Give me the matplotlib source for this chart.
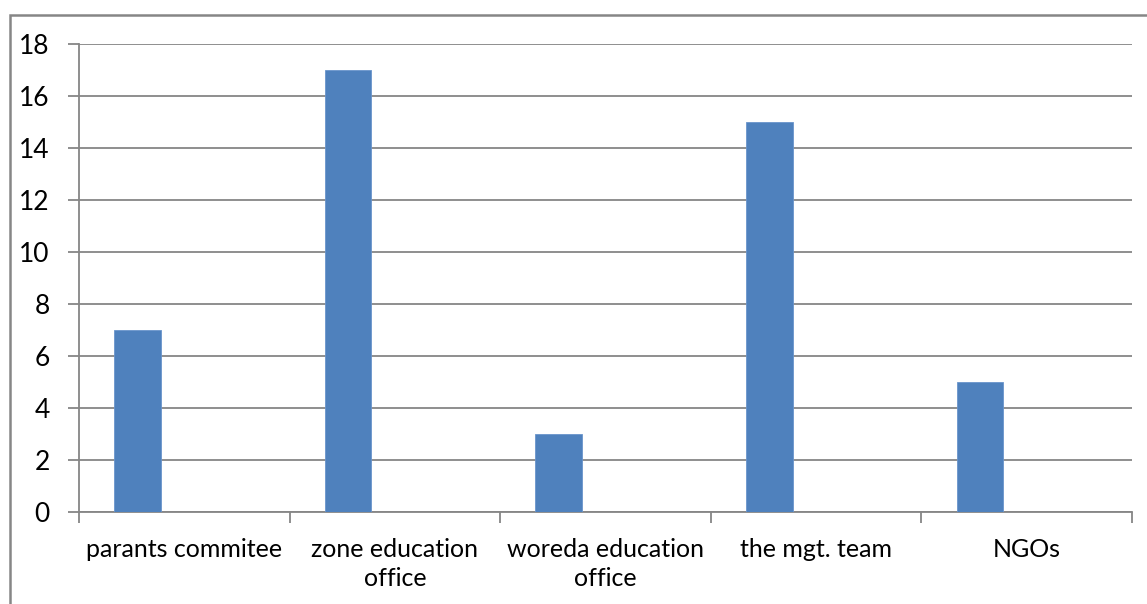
import matplotlib.pyplot as plt
from matplotlib.patches import Rectangle

categories = ['parants commitee', 'zone education\noffice', 'woreda education\noffice',
              'the mgt. team', 'NGOs']
values = [7, 17, 3, 15, 5]
y_ticks = [0, 2, 4, 6, 8, 10, 12, 14, 16, 18]

plt.rcParams['font.family'] = ['Lato', 'DejaVu Sans']

fig = plt.figure(figsize=(11.47, 6.04), dpi=100)
ax = fig.add_axes([79 / 1147, 1 - 512 / 604, (1132 - 79) / 1147, (512 - 44) / 604])

grey = '#868686'

# outer chart frame (cut off at right and bottom like the source)
fig.patches.append(Rectangle((10 / 1147, -0.1), 1.2, 1 - 15 / 604 + 0.1,
                             transform=fig.transFigure, fill=False,
                             edgecolor=grey, linewidth=1.8))

# bars sit in the left part of each category (Excel clustered layout)
pos = [i - 0.5 + 0.1667 + 0.111 for i in range(len(values))]
ax.bar(pos, values, width=0.222, color='#4f81bd', edgecolor='#6a95cc',
       linewidth=0.6, zorder=3)

ax.set_xlim(-0.5, len(values) - 0.5)
ax.set_ylim(0, 18)
ax.set_yticks(y_ticks)
ax.yaxis.grid(True, color=grey, linewidth=1.3)
ax.set_axisbelow(True)

ax.set_xticks(range(len(values)))
ax.set_xticklabels(categories, fontsize=18, color='black', linespacing=1.3)
ax.set_xticks([i - 0.5 for i in range(len(values) + 1)], minor=True)
ax.tick_params(axis='x', which='major', length=0, pad=19)
ax.tick_params(axis='x', which='minor', length=8, width=1.3, color=grey)
ax.tick_params(axis='y', length=8, width=1.3, color=grey, labelsize=19, pad=13)

for s in ['top', 'right']:
    ax.spines[s].set_visible(False)
for s in ['left', 'bottom']:
    ax.spines[s].set_color(grey)
    ax.spines[s].set_linewidth(1.3)

fig.savefig('out.png', dpi=100)
